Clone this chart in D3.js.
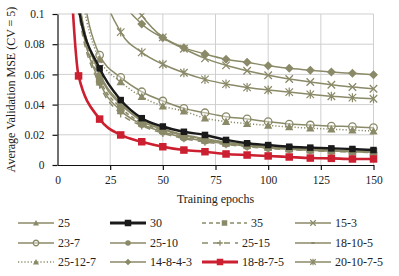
<!DOCTYPE html>
<html>
<head>
<meta charset="utf-8">
<script src="https://cdn.jsdelivr.net/npm/d3@7"></script>
<style>
body{margin:0;background:#fff;}
text{font-family:"Liberation Serif","DejaVu Serif",serif;fill:#222;}
</style>
</head>
<body>
<svg id="chart" width="399" height="276"></svg>
<script>
// epochs (5 is off the top of the chart for most series)
var epochs = [5,10,20,30,40,50,60,70,80,90,100,110,120,130,140,150];

var s25      = [0.30,0.112,0.060,0.040,0.030,0.024,0.020,0.0175,0.015,0.0135,0.012,0.011,0.0105,0.0098,0.0093,0.009];
var s30      = [0.30,0.104,0.064,0.043,0.031,0.0255,0.022,0.0199,0.0166,0.0144,0.0132,0.0121,0.0115,0.011,0.0106,0.0099];
var s35      = [0.30,0.108,0.057,0.038,0.028,0.023,0.019,0.0165,0.0145,0.013,0.0118,0.0108,0.010,0.0095,0.009,0.0087];
var s15_3    = [0.40,0.25,0.16,0.122,0.099,0.0845,0.077,0.0706,0.066,0.0624,0.0594,0.057,0.055,0.0532,0.0516,0.0505];
var s23_7    = [0.35,0.14,0.0728,0.058,0.0485,0.0424,0.0375,0.0346,0.032,0.0305,0.0287,0.0271,0.0265,0.0258,0.0254,0.0247];
var s25_10   = [0.30,0.106,0.055,0.036,0.027,0.022,0.018,0.016,0.014,0.0125,0.0113,0.0104,0.0097,0.0092,0.0088,0.0085];
var s25_15   = [0.30,0.102,0.053,0.034,0.026,0.021,0.0175,0.0152,0.0135,0.012,0.011,0.0101,0.0095,0.009,0.0086,0.0082];
var s18_10_5 = [0.30,0.11,0.061,0.041,0.029,0.0235,0.0195,0.017,0.015,0.0133,0.012,0.011,0.0103,0.0097,0.0092,0.0088];
var s25_12_7 = [0.35,0.13,0.070,0.0551,0.0452,0.039,0.0357,0.031,0.0288,0.0274,0.0262,0.0252,0.0244,0.0237,0.0231,0.0225];
var s14_8_4_3= [0.40,0.26,0.16,0.112,0.0934,0.0843,0.0777,0.0735,0.070,0.068,0.0657,0.064,0.0627,0.0616,0.0607,0.0598];
var s18_8_7_5= [0.16,0.059,0.0304,0.0199,0.0154,0.0121,0.0099,0.0088,0.0073,0.0066,0.006,0.0053,0.0046,0.0044,0.004,0.004];
var s20_10_7_5=[0.40,0.22,0.125,0.088,0.0746,0.0667,0.0611,0.0567,0.0536,0.0514,0.0497,0.0483,0.0468,0.0455,0.0446,0.0439];

var xTicks = [0,25,50,75,100,125,150];
var yTicks = [0,0.02,0.04,0.06,0.08,0.1];

var olive = "#8b8a68", red = "#cc1f30", black = "#1a1a1a";

// legend order (rows of 4)
var series = [
	{name:"25",        v:s25,       color:olive, w:1.5, dash:null,   mk:"triangle"},
	{name:"30",        v:s30,       color:black, w:2.4, dash:null,   mk:"square"},
	{name:"35",        v:s35,       color:olive, w:1.5, dash:"4,3",  mk:"square"},
	{name:"15-3",      v:s15_3,     color:olive, w:1.5, dash:null,   mk:"x"},
	{name:"23-7",      v:s23_7,     color:olive, w:1.5, dash:null,   mk:"ocircle"},
	{name:"25-10",     v:s25_10,    color:olive, w:1.5, dash:null,   mk:"circle"},
	{name:"25-15",     v:s25_15,    color:olive, w:1.5, dash:"6,5",  mk:"plus"},
	{name:"18-10-5",   v:s18_10_5,  color:olive, w:1.5, dash:null,   mk:"dash"},
	{name:"25-12-7",   v:s25_12_7,  color:olive, w:1.5, dash:"1.2,2",mk:"triangle"},
	{name:"14-8-4-3",  v:s14_8_4_3, color:olive, w:1.5, dash:null,   mk:"diamond"},
	{name:"18-8-7-5",  v:s18_8_7_5, color:red,   w:2.6, dash:null,   mk:"square"},
	{name:"20-10-7-5", v:s20_10_7_5,color:olive, w:1.5, dash:null,   mk:"asterisk"}
];

var svg = d3.select("#chart");
var x = d3.scaleLinear().domain([0,150]).range([57.5,373.5]);
var y = d3.scaleLinear().domain([0,0.1]).range([165,14]);

svg.append("defs").append("clipPath").attr("id","plot")
	.append("rect").attr("x",x(0)).attr("y",y(0.1)-0.5)
	.attr("width",x(150)-x(0)+6).attr("height",y(0)-y(0.1)+0.5);

// grid
svg.append("g").selectAll("line").data(xTicks.slice(1)).enter().append("line")
	.attr("x1",d=>x(d)).attr("x2",d=>x(d)).attr("y1",y(0)).attr("y2",y(0.1))
	.attr("stroke","#cfcfcf").attr("stroke-width",1);
svg.append("g").selectAll("line").data(yTicks.slice(1)).enter().append("line")
	.attr("x1",x(0)).attr("x2",x(150)).attr("y1",d=>y(d)).attr("y2",d=>y(d))
	.attr("stroke","#cfcfcf").attr("stroke-width",1);

// marker shapes
function marker(sel, mk, color, s){
	var h = s/2;
	if(mk=="triangle"){
		sel.append("path").attr("d","M0,"+(-h*1.1)+"L"+(h*1.1)+","+(h*0.9)+"L"+(-h*1.1)+","+(h*0.9)+"Z").attr("fill",color);
	}else if(mk=="square"){
		sel.append("rect").attr("x",-h).attr("y",-h).attr("width",s).attr("height",s).attr("fill",color);
	}else if(mk=="circle"){
		sel.append("circle").attr("r",h).attr("fill",color);
	}else if(mk=="ocircle"){
		sel.append("circle").attr("r",h).attr("fill","#fff").attr("fill-opacity",0.4).attr("stroke",color).attr("stroke-width",1.3);
	}else if(mk=="diamond"){
		sel.append("path").attr("d","M0,"+(-h*1.2)+"L"+(h*1.2)+",0L0,"+(h*1.2)+"L"+(-h*1.2)+",0Z").attr("fill",color);
	}else if(mk=="x"){
		sel.append("path").attr("d","M"+(-h)+","+(-h)+"L"+h+","+h+"M"+(-h)+","+h+"L"+h+","+(-h)).attr("stroke",color).attr("stroke-width",1.3);
	}else if(mk=="plus"){
		sel.append("path").attr("d","M"+(-h)+",0L"+h+",0M0,"+(-h)+"L0,"+h).attr("stroke",color).attr("stroke-width",1.3);
	}else if(mk=="dash"){
		sel.append("path").attr("d","M"+(-h*0.6)+",0L"+(h*0.6)+",0").attr("stroke",color).attr("stroke-width",2);
	}else if(mk=="asterisk"){
		sel.append("path").attr("d","M"+(-h)+","+(-h)+"L"+h+","+h+"M"+(-h)+","+h+"L"+h+","+(-h)+"M0,"+(-h*1.2)+"L0,"+(h*1.2)).attr("stroke",color).attr("stroke-width",1.2);
	}
}

var line = d3.line().x(d=>x(d[0])).y(d=>y(d[1])).curve(d3.curveMonotoneX);

var plot = svg.append("g").attr("clip-path","url(#plot)");
// olive series first, then black, red on top
var order = series.filter(s=>s.color==olive).concat(series.filter(s=>s.color==black), series.filter(s=>s.color==red));
order.forEach(function(s){
	var pts = epochs.map((e,i)=>[e,s.v[i]]);
	plot.append("path").attr("d",line(pts)).attr("fill","none")
		.attr("stroke",s.color).attr("stroke-width",s.w)
		.attr("stroke-dasharray",s.dash);
	var size = s.color==olive ? 7.5 : (s.color==black ? 6.5 : 7.5);
	pts.filter(p=>p[0]>=10).forEach(function(p){
		var g = plot.append("g").attr("transform","translate("+x(p[0])+","+y(p[1])+")");
		marker(g, s.mk, s.color, size);
	});
});

// axes
var xAxis = svg.append("g").attr("transform","translate(0,"+y(0)+")")
	.call(d3.axisBottom(x).tickValues(xTicks).tickSize(5).tickSizeOuter(0).tickPadding(6));
var yAxis = svg.append("g").attr("transform","translate("+x(0)+",0)")
	.call(d3.axisLeft(y).tickValues(yTicks).tickSize(5).tickSizeOuter(0).tickPadding(8).tickFormat(d3.format("~g")));
[xAxis,yAxis].forEach(function(a){
	a.select(".domain").attr("stroke","#111").attr("stroke-width",1.2);
	a.selectAll(".tick line").attr("stroke","#111").attr("stroke-width",1.2);
	a.selectAll("text").attr("font-size","11.5px").attr("fill","#222")
		.attr("font-family","Liberation Serif, serif");
});
xAxis.select(".tick line").remove();

svg.append("text").attr("x",(x(0)+x(150))/2).attr("y",203).attr("text-anchor","middle")
	.attr("font-size","12px").text("Training epochs");
svg.append("text").attr("transform","translate(15,"+((y(0)+y(0.1))/2)+") rotate(-90)")
	.attr("text-anchor","middle").attr("font-size","12px").text("Average Validation MSE (CV = 5)");

// legend
var colX = [18,110,202,295], rowY = [223,243,262];
series.forEach(function(s,i){
	var lx = colX[i%4], ly = rowY[Math.floor(i/4)];
	var len = (s.name=="35") ? 45 : 36;
	var g = svg.append("g");
	g.append("line").attr("x1",lx).attr("x2",lx+len).attr("y1",ly).attr("y2",ly)
		.attr("stroke",s.color).attr("stroke-width",s.w>2?3:1.3).attr("stroke-dasharray",s.dash);
	var m = g.append("g").attr("transform","translate("+(lx+len/2)+","+ly+")");
	marker(m, s.mk, s.color, s.color==olive?5.5:6.5);
	g.append("text").attr("x",lx+len+4).attr("y",ly+4).attr("font-size","12px").text(s.name);
});
</script>
</body>
</html>
